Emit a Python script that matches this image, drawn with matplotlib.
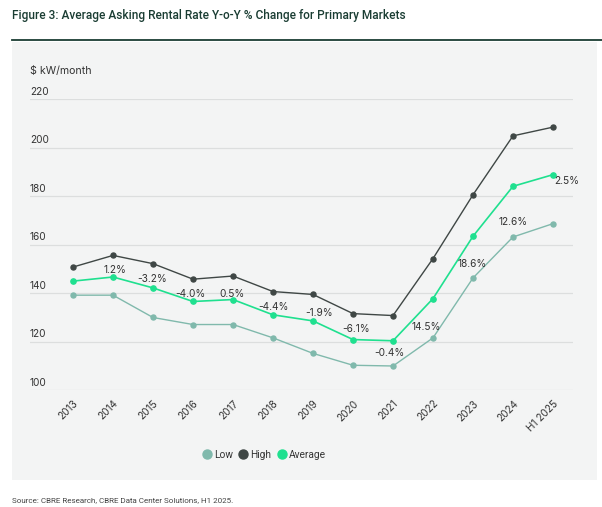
import matplotlib.pyplot as plt
from matplotlib.patches import Rectangle
from matplotlib.lines import Line2D

# chart values
years = ["2013", "2014", "2015", "2016", "2017", "2018", "2019",
         "2020", "2021", "2022", "2023", "2024", "H1 2025"]
high = [150.7, 155.5, 152.1, 145.7, 147.0, 140.6, 139.4,
        131.5, 130.7, 154.2, 180.5, 204.8, 208.4]
average = [144.9, 146.6, 142.1, 136.5, 137.3, 131.0, 128.5,
           120.8, 120.3, 137.7, 163.4, 184.0, 188.8]
low = [139.1, 139.1, 129.9, 127.0, 127.0, 121.5, 115.1,
       110.2, 109.9, 121.5, 146.2, 163.1, 168.6]
yoy_labels = ["", "1.2%", "-3.2%", "-4.0%", "0.5%", "-4.4%", "-1.9%",
              "-6.1%", "-0.4%", "14.5%", "18.6%", "12.6%", "2.5%"]
y_ticks = [100, 120, 140, 160, 180, 200, 220]

# label centre offsets in pixels (dx right, dy up) from the average point
label_offsets = [(0, 0), (2, 6.7), (-1, 8.7), (-3, 7.3), (-1, 5.3), (0, 7.7),
                 (6, 7.7), (3, 10.3), (-4, -12.3), (-7, -28.7), (-1, -28),
                 (0, -36), (14, -6.7)]

C_LOW = "#80b9ac"
C_HIGH = "#3f4745"
C_AVG = "#1fe08f"
C_PANEL = "#f3f4f4"
C_TEXT = "#333333"

plt.rcParams["font.family"] = ["Inter", "DejaVu Sans"]

W, H = 602, 507
fig = plt.figure(figsize=(W / 100, H / 100), dpi=100)
fig.patch.set_facecolor("white")

# grey panel and top rule
fig.patches.append(Rectangle((12 / W, 1 - 480 / H), 585 / W, 438 / H,
                             transform=fig.transFigure, facecolor=C_PANEL,
                             edgecolor="none", zorder=-5))
fig.add_artist(Line2D([12 / W, 1], [1 - 40 / H, 1 - 40 / H], color="#1a3d33",
                      lw=1.3, transform=fig.transFigure))

fig.text(12 / W, 1 - 15 / H,
         "Figure 3: Average Asking Rental Rate Y-o-Y % Change for Primary Markets",
         family=["Roboto", "DejaVu Sans"], fontsize=8.6, fontweight="medium",
         color="#1a3d33", va="center", ha="left")
fig.text(12 / W, 1 - 500 / H,
         "Source: CBRE Research, CBRE Data Center Solutions, H1 2025.",
         family=["Roboto", "DejaVu Sans"], fontsize=5.75, color="#444444",
         va="center", ha="left")
fig.text(30 / W, 1 - 71 / H, "$ kW/month", fontsize=7.6, color=C_TEXT,
         va="center", ha="left")

# axes area: x from 30 to 573 px, y 100 at 390 px and 220 at 99 px
ax_left, ax_right = 30, 573
y_bot, y_top = 390, 99
ax = fig.add_axes([ax_left / W, 1 - y_bot / H, (ax_right - ax_left) / W,
                   (y_bot - y_top) / H])
ax.set_facecolor("none")
x = list(range(len(years)))
# 2013 at 73 px, 40 px per step
px_per = 40
x0 = -(73 - ax_left) / px_per
x1 = x0 + (ax_right - ax_left) / px_per
ax.set_xlim(x0, x1)
ax.set_ylim(100, 220)

for v in y_ticks:
    ax.axhline(v, color="#dcdede", lw=0.9, zorder=1)
    ax.text(0, v + 0.9, str(v), transform=ax.get_yaxis_transform(),
            fontsize=7.3, color=C_TEXT, ha="left", va="bottom")

ax.plot(x, low, color=C_LOW, lw=1.0, marker="o", ms=3.6, zorder=3)
ax.plot(x, high, color=C_HIGH, lw=1.0, marker="o", ms=3.6, zorder=3)
ax.plot(x, average, color=C_AVG, lw=1.2, marker="o", ms=3.8, zorder=4)

for i, lab in enumerate(yoy_labels):
    if lab:
        dx, dy = label_offsets[i]
        ax.annotate(lab, (x[i], average[i]), xytext=(dx * 0.72, dy * 0.72),
                    textcoords="offset points", ha="center", va="center",
                    fontsize=7.3, color=C_TEXT, zorder=5)

ax.set_xticks(x)
ax.set_xticklabels(years, rotation=45, ha="right", va="top",
                   rotation_mode="anchor", fontsize=7.3, color=C_TEXT)
ax.tick_params(axis="x", length=0, pad=6)
ax.set_yticks([])
for s in ax.spines.values():
    s.set_visible(False)

handles = [Line2D([], [], marker="o", ls="none", ms=6.5, color=c)
           for c in (C_LOW, C_HIGH, C_AVG)]
fig.legend(handles, ["Low", "High", "Average"], loc="center",
           bbox_to_anchor=(264 / W, 1 - 455 / H), ncol=3, frameon=False,
           handletextpad=0.2, columnspacing=0.5, handlelength=1.0,
           prop={"family": ["Roboto", "DejaVu Sans"], "size": 7.3},
           labelcolor=C_TEXT)

fig.savefig("out.png", dpi=100, facecolor="white")
